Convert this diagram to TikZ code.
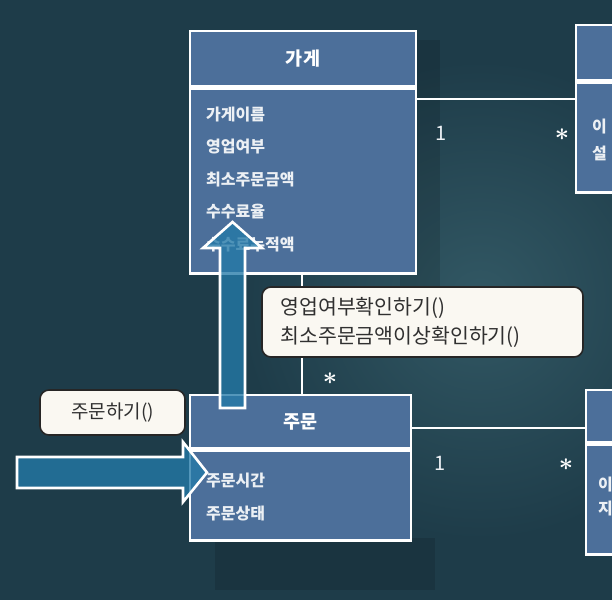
\documentclass[tikz,border=0pt]{standalone}
\usepackage{fontspec}
\setmainfont{Noto Sans CJK KR}
\usepackage{tikz}
\usetikzlibrary{positioning}
\definecolor{bgteal}{RGB}{30,60,73}
\definecolor{bgglow}{RGB}{50,88,100}
\definecolor{classblue}{RGB}{76,111,154}
\definecolor{arrowteal}{RGB}{36,122,168}
\definecolor{notefill}{RGB}{250,248,242}
\definecolor{notetext}{RGB}{48,48,48}
\definecolor{attrwhite}{RGB}{236,240,244}

\begin{document}
\begin{tikzpicture}[x=1pt,y=-1pt,
  classbox/.style={rectangle,draw=white,line width=2.4pt,fill=classblue,
                   inner sep=0pt,text=white,font=\fontsize{18.5}{18.5}\selectfont\bfseries},
  attr/.style={anchor=west,inner sep=0pt,text=attrwhite,
               font=\fontsize{16}{16}\selectfont\bfseries},
  mult/.style={inner sep=0pt,text=attrwhite,font=\fontsize{20}{20}\selectfont},
  star/.style={inner sep=0pt,text=white,font=\fontsize{34}{34}\selectfont\boldmath},
  assoc/.style={draw=white,line width=2.4pt},
  note/.style={rectangle,draw=black!85,line width=1.6pt,fill=notefill,
               rounded corners=9pt,inner sep=0pt,text=notetext},
  blockarrow/.style={fill=arrowteal,fill opacity=.78,draw=white,
                     line width=2.6pt,line join=miter}]
  \useasboundingbox (0,0) rectangle (612,600);
  \clip (0,0) rectangle (612,600);
  % Chalkboard background with a soft glow and two box shadows.
  \fill[bgteal] (0,0) rectangle (612,600);
  \shade[inner color=bgglow,outer color=bgteal] (480,300) circle (240);
  \fill[black,opacity=.12] (400,40) rectangle (440,300);
  \fill[black,opacity=.12] (215,538) rectangle (435,590);

  % Store class.
  \node[classbox,minimum width=226pt,minimum height=55pt] (storeHead) at (303,58.5) {가게};
  \node[classbox,minimum width=226pt,minimum height=185pt,anchor=north] (storeBody)
    at (storeHead.south) {};
  \foreach \t [count=\i] in {가게이름,영업여부,최소주문금액,수수료율,수수료누적액}
    \node[attr] (storeAttr\i) at (206,82+\i*32.5) {\t};

  % Partly visible classes on the right edge.
  \node[classbox,minimum width=64pt,minimum height=55pt] (menuHead) at (608,52.5) {};
  \node[classbox,minimum width=64pt,minimum height=110pt,anchor=north] (menuBody)
    at (menuHead.south) {};
  \node[attr] (menuAttr1) at (592,127) {이};
  \node[attr] (menuAttr2) at (592,153) {설};
  \node[classbox,minimum width=64pt,minimum height=52pt] (itemHead) at (618,416) {};
  \node[classbox,minimum width=64pt,minimum height=110pt,anchor=north] (itemBody)
    at (itemHead.south) {};
  \node[attr] (itemAttr1) at (598,485) {이};
  \node[attr] (itemAttr2) at (598,509) {지};

  % Order class.
  \node[classbox,minimum width=221pt,minimum height=53pt] (orderHead) at (300.5,421.5) {주문};
  \node[classbox,minimum width=221pt,minimum height=90pt,anchor=north] (orderBody)
    at (orderHead.south) {};
  \node[attr] (orderAttr1) at (206,481) {주문시간};
  \node[attr] (orderAttr2) at (206,514) {주문상태};

  % Associations and multiplicities.
  \coordinate (storeOut) at ([yshift=-12pt]storeBody.north east);
  \draw[assoc] (storeOut) -- (storeOut -| menuBody.west);
  \coordinate (orderOut) at ([yshift=-6.5pt]orderHead.east);
  \draw[assoc] (orderOut) -- (orderOut -| itemHead.west);
  \draw[assoc] ([xshift=-1pt]storeBody.south) -- ([xshift=-1pt]storeBody.south |- orderHead.north);
  \node[mult] (m1) at (441,133) {1};
  \node[star] (m2) at (562,135) {$\ast$};
  \node[mult] (m3) at (440,463) {1};
  \node[star] (m4) at (566,465) {$\ast$};
  \node[star] (m5) at (330,379) {$\ast$};

  % Messages.
  \node[note,minimum width=321pt,minimum height=70pt,text width=284pt,align=left,
        font=\fontsize{20.5}{29}\selectfont] (msgNote) at (422.5,322)
    {영업여부확인하기()\\최소주문금액이상확인하기()};
  \node[note,minimum width=145pt,minimum height=45pt,font=\fontsize{19}{19}\selectfont]
    (callNote) at (112.5,412.5) {주문하기()};
  \draw[blockarrow] (220,408) -- (245,408) -- (245,248) -- (262,248) -- (232.5,222)
    -- (203,248) -- (220,248) -- cycle;
  \draw[blockarrow] (17,457) -- (183,457) -- (183,442) -- (207,472.5) -- (183,502)
    -- (183,488) -- (17,488) -- cycle;
\end{tikzpicture}
\end{document}
